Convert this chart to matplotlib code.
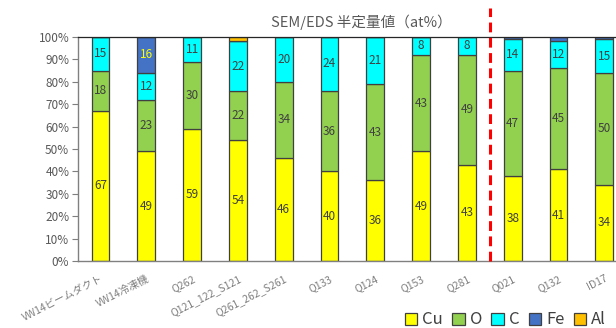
import matplotlib
matplotlib.use("Agg")
import matplotlib.pyplot as plt
from matplotlib.patches import Patch
import numpy as np

plt.rcParams['font.family'] = ['Noto Sans CJK JP', 'DejaVu Sans']

samples = ["VW14ビームダクト", "VW14冷凍機", "Q262", "Q121_122_S121", "Q261_262_S261",
           "Q133", "Q124", "Q153", "Q281", "Q021", "Q132", "ID17"]
cu = [67, 49, 59, 54, 46, 40, 36, 49, 43, 38, 41, 34]
o = [18, 23, 30, 22, 34, 36, 43, 43, 49, 47, 45, 50]
c = [15, 12, 11, 22, 20, 24, 21, 8, 8, 14, 12, 15]
fe = [0, 16, 0, 0, 0, 0, 0, 0, 0, 1, 2, 1]
al = [0, 0, 0, 2, 0, 0, 0, 0, 0, 0, 0, 0]

elements = ["Cu", "O", "C", "Fe", "Al"]
series = [cu, o, c, fe, al]
colors = ["#FFFF00", "#92D050", "#00FFFF", "#4472C4", "#FFC000"]
label_colors = ["#404040", "#404040", "#404040", "#FFFF00", "#404040"]

fig = plt.figure(figsize=(6.16, 3.28), dpi=100)
ax = fig.add_axes([77.6 / 616, 1 - 261 / 328, 549.6 / 616, 224 / 328])

x = np.arange(len(samples))
bottom = np.zeros(len(samples))
for name, vals, col, lcol in zip(elements, series, colors, label_colors):
    vals = np.array(vals, dtype=float)
    ax.bar(x, vals, 0.39, bottom=bottom, color=col, edgecolor="#404040",
           linewidth=0.9, label=name, zorder=2)
    for xi, b, v in zip(x, bottom, vals):
        if v >= 5:
            ax.text(xi, b + v / 2, f"{int(v)}", ha="center", va="center",
                    fontsize=8.5, color=lcol, zorder=3)
    bottom += vals

ax.set_xlim(-0.5, len(samples) - 0.5)
ax.set_ylim(0, 100)
ax.set_yticks(np.arange(0, 101, 10))
ax.set_yticklabels([f"{v}%" for v in range(0, 101, 10)])
ax.tick_params(axis="y", labelsize=8.5, labelcolor="#595959", color="#7f7f7f",
               length=4, width=0.8, pad=2)
ax.set_xticks(x)
ax.set_xticklabels(samples, rotation=27, ha="right", rotation_mode="anchor",
                   fontsize=7.5, color="#7f7f7f")
ax.tick_params(axis="x", length=0, pad=9)

for side in ("left", "bottom"):
    ax.spines[side].set_color("#808080")
    ax.spines[side].set_linewidth(1.0)
ax.spines["top"].set_color("#262626")
ax.spines["top"].set_linewidth(0.9)
ax.spines["right"].set_color("#262626")

# separator between sample groups
ax.plot([8.5, 8.5], [0, 113], color="#FF0000", linewidth=2.2,
        linestyle=(0, (3.2, 1.8)), clip_on=False, zorder=4)

fig.text(361 / 616, 1 - 22 / 328, "SEM/EDS 半定量値（at%）", ha="center", va="center",
         fontsize=10.5, color="#595959")

handles = [Patch(facecolor=col, edgecolor="#404040", linewidth=0.9) for col in colors]
fig.legend(handles, elements, loc="center right", bbox_to_anchor=(1.0, 1 - 320 / 328),
           ncol=5, frameon=False, fontsize=12, handlelength=0.75, handleheight=0.75,
           handletextpad=0.3, columnspacing=0.55, labelcolor="#404040", borderpad=0.1)

fig.savefig("out.png", dpi=100)
